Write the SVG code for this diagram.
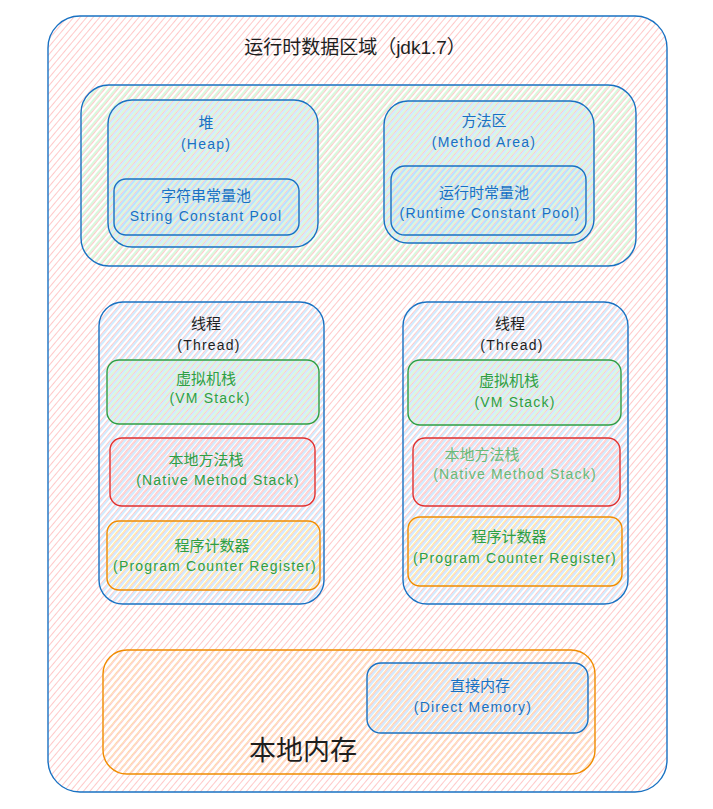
<svg xmlns="http://www.w3.org/2000/svg" width="713" height="809" viewBox="0 0 713 809">
<style>
.box{stroke-width:1.4}
.blue{stroke:#1971c2}
.green{stroke:#2f9e44}
.red{stroke:#e03131}
.orange{stroke:#f08c00}
text{text-anchor:middle;font-family:"Liberation Sans","Noto Sans CJK SC",sans-serif}
.cn{font-size:15px}
.en{font-size:14px;letter-spacing:1.2px}
.tb{fill:#1971c2}
.tg{fill:#2f9e44}
.td{fill:#1e1e1e}
</style>
<defs>
<pattern id="pPink" width="5" height="5" patternUnits="userSpaceOnUse" patternTransform="rotate(-50)"><line x1="0" y1="2.5" x2="5" y2="2.5" stroke="#ffc9c9" stroke-width="1"/></pattern>
<pattern id="pGreen" width="5" height="5" patternUnits="userSpaceOnUse" patternTransform="rotate(-50)"><line x1="0" y1="1" x2="5" y2="1" stroke="#b2f2bb" stroke-width="1"/></pattern>
<pattern id="pBlue" width="5" height="5" patternUnits="userSpaceOnUse" patternTransform="rotate(-50)"><line x1="0" y1="4" x2="5" y2="4" stroke="#a5d8ff" stroke-width="1"/></pattern>
<pattern id="pRed" width="5" height="5" patternUnits="userSpaceOnUse" patternTransform="rotate(-50)"><line x1="0" y1="1.5" x2="5" y2="1.5" stroke="#ffc9c9" stroke-width="1"/></pattern>
<pattern id="pYellow" width="5" height="5" patternUnits="userSpaceOnUse" patternTransform="rotate(-50)"><line x1="0" y1="1.5" x2="5" y2="1.5" stroke="#ffec99" stroke-width="1"/></pattern>
<pattern id="pOrange" width="5" height="5" patternUnits="userSpaceOnUse" patternTransform="rotate(-50)"><line x1="0" y1="1.5" x2="5" y2="1.5" stroke="#ffd8a8" stroke-width="1"/></pattern>
</defs>
<rect width="713" height="809" fill="#ffffff"/>

<g id="runtime-data-area">
<rect class="box blue" x="48" y="16" width="619" height="776" rx="32" fill="url(#pPink)"/>
<text class="td" x="355" y="54" style="font-size:19px">运行时数据区域（jdk1.7）</text>
</g>

<g id="shared-area">
<rect class="box blue" x="81" y="85" width="555" height="181" rx="28" fill="url(#pGreen)"/>
</g>

<g id="heap">
<rect class="box blue" x="108" y="100" width="210" height="147" rx="24" fill="url(#pBlue)"/>
<text class="tb cn" x="206" y="128">堆</text>
<text class="tb en" x="206" y="149">(Heap)</text>
</g>
<g id="string-pool">
<rect class="box blue" x="114" y="179" width="185" height="56" rx="12" fill="url(#pBlue)"/>
<text class="tb cn" x="206" y="201">字符串常量池</text>
<text class="tb en" x="206" y="221">String Constant Pool</text>
</g>

<g id="method-area">
<rect class="box blue" x="384" y="101" width="210" height="142" rx="24" fill="url(#pBlue)"/>
<text class="tb cn" x="484" y="126">方法区</text>
<text class="tb en" x="484" y="147">(Method Area)</text>
</g>
<g id="runtime-pool">
<rect class="box blue" x="391" y="166" width="195" height="69" rx="14" fill="url(#pBlue)"/>
<text class="tb cn" x="484" y="198">运行时常量池</text>
<text class="tb en" x="490" y="218">(Runtime Constant Pool)</text>
</g>

<g id="thread1">
<rect class="box blue" x="99" y="302" width="225" height="302" rx="24" fill="url(#pBlue)"/>
<text class="td cn" x="206" y="329">线程</text>
<text class="td en" x="209" y="350">(Thread)</text>
</g>
<g id="vm-stack1">
<rect class="box green" x="107" y="360" width="212" height="64" rx="12" fill="url(#pGreen)"/>
<text class="tg cn" x="206" y="384">虚拟机栈</text>
<text class="tg en" x="210" y="403">(VM Stack)</text>
</g>
<g id="native-stack1">
<rect class="box red" x="110" y="438" width="205" height="68" rx="12" fill="url(#pRed)"/>
<text class="tg cn" x="206" y="465">本地方法栈</text>
<text class="tg en" x="218" y="485">(Native Method Stack)</text>
</g>
<g id="pc1">
<rect class="box orange" x="107" y="521" width="213" height="69" rx="12" fill="url(#pYellow)"/>
<text class="tg cn" x="212" y="551">程序计数器</text>
<text class="tg en" x="215" y="571">(Program Counter Register)</text>
</g>

<g id="thread2">
<rect class="box blue" x="403" y="302" width="225" height="302" rx="24" fill="url(#pBlue)"/>
<text class="td cn" x="510" y="329">线程</text>
<text class="td en" x="512" y="350">(Thread)</text>
</g>
<g id="vm-stack2">
<rect class="box green" x="408" y="360" width="213" height="65" rx="12" fill="url(#pGreen)"/>
<text class="tg cn" x="509" y="386">虚拟机栈</text>
<text class="tg en" x="515" y="407">(VM Stack)</text>
</g>
<g id="native-stack2">
<rect class="box red" x="413" y="438" width="207" height="68" rx="12" fill="url(#pRed)"/>
<text class="tg cn" x="482" y="460" style="fill:#69b978">本地方法栈</text>
<text class="tg en" x="515" y="479" style="fill:#69b978">(Native Method Stack)</text>
</g>
<g id="pc2">
<rect class="box orange" x="408" y="517" width="214" height="69" rx="12" fill="url(#pYellow)"/>
<text class="tg cn" x="509" y="542">程序计数器</text>
<text class="tg en" x="515" y="563">(Program Counter Register)</text>
</g>

<g id="native-memory">
<rect class="box orange" x="103" y="650" width="492" height="124" rx="24" fill="url(#pOrange)"/>
<text class="td" x="303" y="760" style="font-size:27px">本地内存</text>
</g>
<g id="direct-memory">
<rect class="box blue" x="367" y="663" width="221" height="70" rx="14" fill="url(#pBlue)"/>
<text class="tb cn" x="480" y="691">直接内存</text>
<text class="tb en" x="473" y="712">(Direct Memory)</text>
</g>

<g id="connectors"></g>
</svg>
